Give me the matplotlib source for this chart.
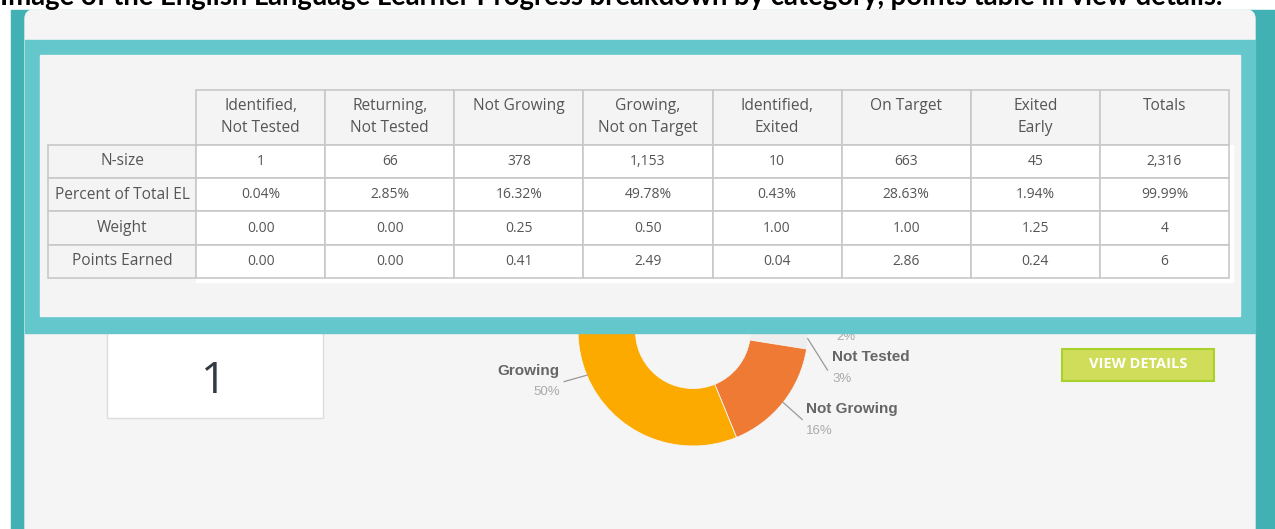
import matplotlib
matplotlib.use("Agg")
import numpy as np
import matplotlib.pyplot as plt
from matplotlib.patches import Rectangle, FancyBboxPatch

# ---------------- DATA ---------------- #
title_text = ("Image of the English Language Learner Progress breakdown by category, "
              "points table in view details.")

categories = ["Identified,\nNot Tested", "Returning,\nNot Tested", "Not Growing\n ",
              "Growing,\nNot on Target", "Identified,\nExited", "On Target\n ",
              "Exited\nEarly", "Totals\n "]
row_labels = ["N-size", "Percent of Total EL", "Weight", "Points Earned"]
n_size = ["1", "66", "378", "1,153", "10", "663", "45", "2,316"]
pct_total = ["0.04%", "2.85%", "16.32%", "49.78%", "0.43%", "28.63%", "1.94%", "99.99%"]
weight = ["0.00", "0.00", "0.25", "0.50", "1.00", "1.00", "1.25", "4"]
points = ["0.00", "0.00", "0.41", "2.49", "0.04", "2.86", "0.24", "6"]

# donut (mostly hidden behind the table overlay)
donut_labels = ["On Target", "Exited", "Exited Early", "Not Tested", "Not Growing", "Growing"]
donut_counts = [663, 10, 45, 67, 378, 1153]
donut_colors = ["#5fc6c9", "#a6cf2a", "#d0dd5c", "#eeeeee", "#ef7a33", "#fdaa00"]

big_number = "1"
# -------------------------------------- #

W, H = 1275, 529
fig = plt.figure(figsize=(W / 100, H / 100), dpi=100, facecolor="white")

# background page, pixel coordinates (y down)
bg = fig.add_axes([0, 0, 1, 1], zorder=0)
bg.set_xlim(0, W)
bg.set_ylim(H, 0)
bg.axis("off")

bg.add_patch(Rectangle((11, 10), W - 11, H, color="#41b1b4"))
bg.add_patch(FancyBboxPatch((25, 10), 1230, H + 40, boxstyle="round,pad=0,rounding_size=9",
                            color="#f5f5f5"))

# white score box with the big number
bg.add_patch(Rectangle((107, 300), 216, 118, facecolor="white", edgecolor="#dddddd", lw=1))
bg.text(214, 382, big_number, fontsize=32, color="#333a44", ha="center", va="center",
        family="Open Sans")

# view details button
bg.add_patch(Rectangle((1062, 349), 152, 32, facecolor="#cfdd5b", edgecolor="#a9d12b", lw=1.5))
bg.text(1138, 364, "VIEW DETAILS", fontsize=10.5, color="white", ha="center", va="center",
        family="Open Sans", fontweight="bold", fontstretch="condensed")

# title, cut off at the top of the picture
title = bg.text(0, 5, title_text, fontsize=16, fontweight="bold", color="black",
                family="Lato", ha="left", va="baseline")
renderer = fig.canvas.get_renderer()
tw = title.get_window_extent(renderer).width
title.set_fontsize(title.get_fontsize() * 1231 / tw)

# ---------------- DONUT ---------------- #
cx, cy, R = 693, 331, 115
L = 2.5
pd_ax = fig.add_axes([(cx - L * R) / W, (H - cy - L * R) / H, 2 * L * R / W, 2 * L * R / H],
                     zorder=1)
wedges, _ = pd_ax.pie(donut_counts, colors=donut_colors, startangle=113, counterclock=False,
                      radius=1, wedgeprops=dict(width=0.5, edgecolor="#f5f5f5", linewidth=0.6))
pd_ax.set_xlim(-L, L)
pd_ax.set_ylim(-L, L)
pd_ax.axis("off")

total = sum(donut_counts)
# label anchors (connector end, text x, name y, pct y, alignment) in radius units;
# the other labels sit under the table overlay
label_pos = {
    "Growing": (-1.12, -0.44, -1.16, -0.35, -0.53, "right"),
    "Not Growing": (0.95, -0.77, 0.98, -0.68, -0.87, "left"),
    "Not Tested": (1.17, -0.34, 1.21, -0.23, -0.42, "left"),
    "Exited Early": (1.18, 0.0, 1.25, None, -0.05, "left"),
}
for w, name, cnt in zip(wedges, donut_labels, donut_counts):
    if name not in label_pos:
        continue
    mid = np.deg2rad((w.theta1 + w.theta2) / 2)
    sx, sy = np.cos(mid), np.sin(mid)
    ex, ey, tx, ny, py, ha = label_pos[name]
    pd_ax.plot([sx, ex], [sy, ey], color="#999999", lw=0.9, clip_on=False)
    if ny is not None:
        pd_ax.text(tx, ny, name, ha=ha, va="center", fontsize=11, fontweight="bold",
                   color="#666666", family="Liberation Sans", clip_on=False)
    pd_ax.text(tx, py, f"{round(cnt / total * 100)}%", ha=ha, va="center", fontsize=9.5,
               color="#aaaaaa", family="Liberation Sans", clip_on=False)

# ---------------- TABLE OVERLAY ---------------- #
ov = fig.add_axes([0, 0, 1, 1], zorder=3)
ov.set_xlim(0, W)
ov.set_ylim(H, 0)
ov.axis("off")
ov.patch.set_alpha(0)

ov.add_patch(Rectangle((25, 40), 1230, 293, color="#63c7cc"))
ov.add_patch(Rectangle((40, 55), 1200, 261, color="#f4f4f4"))
ov.add_patch(Rectangle((196, 145), 1037, 137, color="white"))

cell_text = [[""] + categories]
for lab, vals in zip(row_labels, [n_size, pct_total, weight, points]):
    cell_text.append([lab] + vals)

x0, x1, y0, y1 = 48, 1229, 90, 278
tbl = ov.table(cellText=cell_text, colWidths=[148] + [129.1] * 8, cellLoc="center",
               bbox=[x0 / W, 1 - y1 / H, (x1 - x0) / W, (y1 - y0) / H])
tbl.set_zorder(5)
tbl.auto_set_font_size(False)
for (r, c), cell in tbl.get_celld().items():
    cell.set_height(55 if r == 0 else 33.5)
    cell.set_edgecolor("#c8c8c8")
    cell.set_linewidth(1.2)
    cell.set_facecolor("#f4f4f4" if (r == 0 or c == 0) else "white")
    t = cell.get_text()
    t.set_fontsize(11.2 if (r == 0 or c == 0) else 10)
    t.set_color("#555555")
    t.set_family("Open Sans")
    if r == 0:
        t.set_linespacing(1.5)
    if r == 0 and c == 0:
        cell.set_visible(False)

fig.savefig("out.png", dpi=100)
